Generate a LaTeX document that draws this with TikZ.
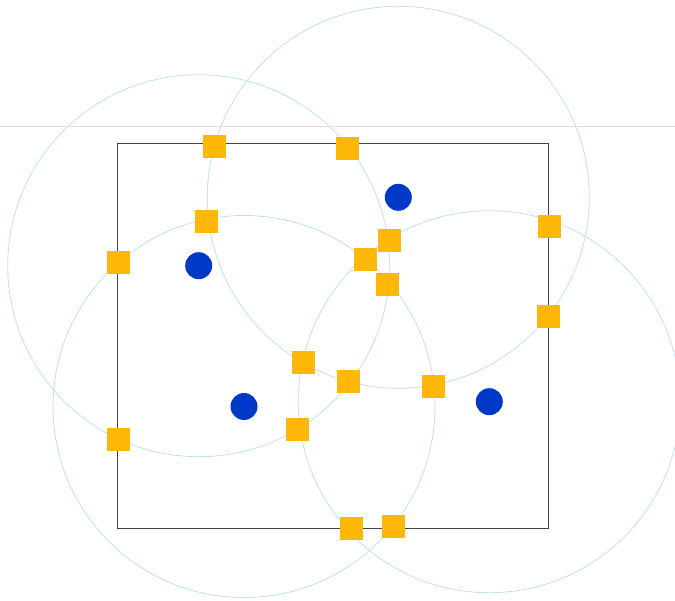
\documentclass[tikz,border=0pt]{standalone}
\begin{document}
\begin{tikzpicture}[x=1pt,y=-1pt,
  ring/.style={draw=ringc,line width=0.8pt},
  anchorsq/.style={rectangle,fill=sqc,minimum size=23pt,inner sep=0pt,draw=none},
  dotn/.style={circle,fill=dotc,minimum size=27pt,inner sep=0pt,draw=none},
  frame/.style={draw=framec,line width=0.9pt},
  guide/.style={draw=guidec,line width=0.7pt}]
\definecolor{ringc}{HTML}{BEE2EA}
\definecolor{sqc}{HTML}{FFB80A}
\definecolor{dotc}{HTML}{0038C8}
\definecolor{framec}{HTML}{444444}
\definecolor{guidec}{HTML}{EDE0C8}
\useasboundingbox (0,0) rectangle (675,601);
\begin{scope}
\clip (0,0) rectangle (675,601);
\coordinate (ca) at (198.7,265.7);
\coordinate (cb) at (398.3,197.3);
\coordinate (cc) at (244,406.5);
\coordinate (cd) at (489.3,401.7);
\draw[ring] (ca) circle (191);
\draw[ring] (cb) circle (191);
\draw[ring] (cc) circle (191);
\draw[ring] (cd) circle (191);
\coordinate (gl) at (0,126.7);
\coordinate (gr) at (675,126.7);
\draw[guide] (gl) -- (gr);
\end{scope}
\coordinate (r1) at (117,143.3);
\coordinate (r2) at (548.5,528.5);
\draw[frame] (r1) rectangle (r2);
% anchors
\node[anchorsq] (s1) at (214.5,146.3) {};
\node[anchorsq] (s2) at (347.3,148.3) {};
\node[anchorsq] (s3) at (206.7,221.3) {};
\node[anchorsq] (s4) at (118.3,262.3) {};
\node[anchorsq] (s5) at (389.3,240.3) {};
\node[anchorsq] (s6) at (365.3,259.3) {};
\node[anchorsq] (s7) at (387.3,284.3) {};
\node[anchorsq] (s8) at (549.3,226.3) {};
\node[anchorsq] (s9) at (548.3,316.3) {};
\node[anchorsq] (s10) at (303.3,362.3) {};
\node[anchorsq] (s11) at (348.3,381.3) {};
\node[anchorsq] (s12) at (433.3,386.3) {};
\node[anchorsq] (s13) at (297.3,429.3) {};
\node[anchorsq] (s14) at (118.3,439.3) {};
\node[anchorsq] (s15) at (351.3,528.7) {};
\node[anchorsq] (s16) at (393.3,526.3) {};
% targets
\node[dotn] (ta) at (ca) {};
\node[dotn] (tb) at (cb) {};
\node[dotn] (tc) at (cc) {};
\node[dotn] (td) at (cd) {};
\end{tikzpicture}
\end{document}
